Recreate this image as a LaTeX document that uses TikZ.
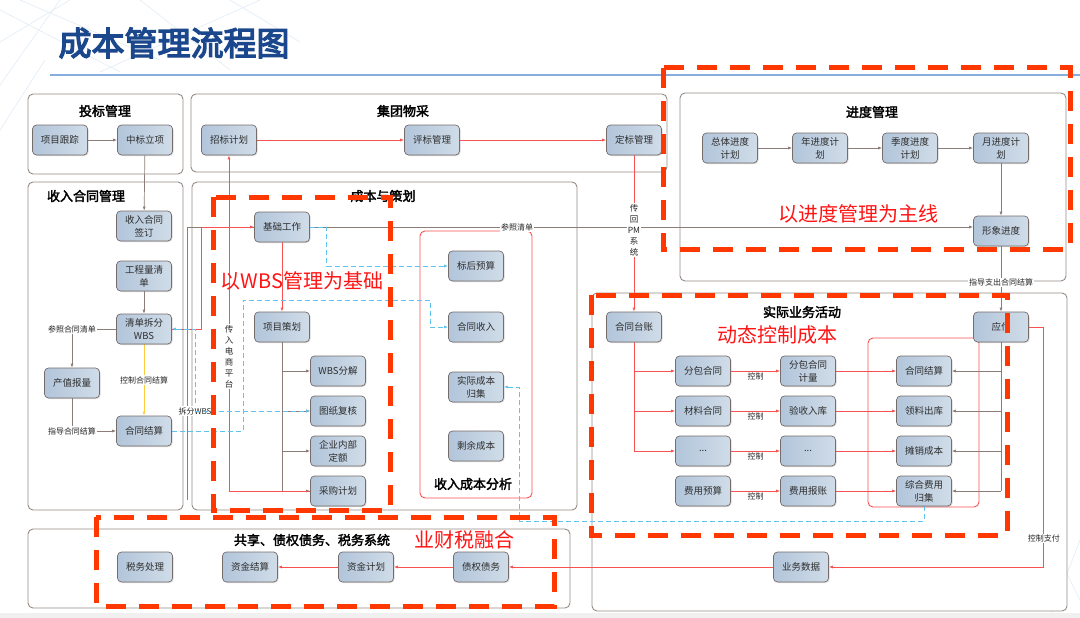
\documentclass[tikz,border=0pt]{standalone}
\usepackage{fontspec}
\setmainfont{Noto Sans CJK SC}
\newfontfamily\heavyfont{Noto Sans CJK SC}[FakeBold=4]
\newfontfamily\boldfont{Noto Sans CJK SC}[FakeBold=2.5]
\usetikzlibrary{arrows.meta, positioning, shadows}
\definecolor{title-blue}{RGB}{27,72,140}
\definecolor{rule-blue}{RGB}{135,172,222}
\definecolor{net-blue}{RGB}{225,235,246}
\definecolor{panel-gray}{RGB}{150,138,132}
\definecolor{box-dark}{RGB}{178,197,218}
\definecolor{box-light}{RGB}{208,220,232}
\definecolor{box-line}{RGB}{118,108,106}
\definecolor{box-text}{RGB}{45,45,45}
\definecolor{link-gray}{RGB}{140,125,120}
\definecolor{link-red}{RGB}{250,80,80}
\definecolor{link-blue}{RGB}{95,195,240}
\definecolor{link-yellow}{RGB}{255,205,60}
\definecolor{focus-red}{RGB}{255,55,0}
\definecolor{focus-text}{RGB}{255,20,20}
\pgfdeclarelayer{panels}
\pgfdeclarelayer{links}
\pgfsetlayers{panels,links,main}

\begin{document}
\begin{tikzpicture}[
    x=1pt, y=-1pt,
    %% flow step box
    box/.style    = {rectangle, rounded corners=4pt,
                     draw=box-line, line width=0.7pt,
                     left color=box-dark, right color=box-light,
                     drop shadow={shadow xshift=1pt, shadow yshift=-1pt, opacity=0.3},
                     minimum width=55pt, minimum height=30pt, inner sep=1pt,
                     font=\fontsize{9.5}{13}\selectfont, text=box-text, align=center},
    %% group panel
    panel/.style  = {rounded corners=5pt, draw=panel-gray, line width=0.9pt, fill=white},
    rpanel/.style = {rounded corners=5pt, draw=link-red, line width=0.9pt},
    ptitle/.style = {font=\boldfont\fontsize{13}{15}\selectfont, text=black},
    %% connector labels
    lbl/.style    = {font=\fontsize{8}{9}\selectfont, text=black!85, fill=white, inner sep=1pt},
    vlbl/.style   = {lbl, align=center, font=\fontsize{8.5}{11}\selectfont},
    ctl/.style    = {font=\fontsize{8}{9}\selectfont, text=black!85, inner sep=0pt},
    %% connectors
    garr/.style   = {-{Latex[length=4pt,width=3pt]}, line width=0.7pt, color=link-gray},
    gline/.style  = {line width=0.7pt, color=link-gray},
    rarr/.style   = {-{Latex[length=4pt,width=3pt]}, line width=0.8pt, color=link-red},
    rline/.style  = {line width=0.8pt, color=link-red},
    barr/.style   = {-{Latex[length=4pt,width=3pt]}, line width=0.9pt, dash pattern=on 5pt off 3pt, color=link-blue},
    yarr/.style   = {-{Latex[length=4pt,width=3pt]}, line width=0.9pt, color=link-yellow},
    %% red emphasis frames
    focus/.style  = {draw=focus-red, line width=5pt, dash pattern=on 20pt off 13pt},
    focustxt/.style = {font=\fontsize{20}{22}\selectfont, text=focus-text},
]
\useasboundingbox (0,0) rectangle (1080,618);

%% ---- background ----
\begin{pgfonlayer}{panels}
\foreach \a/\b in {{0,10}/{120,72}, {0,42}/{70,0}, {20,0}/{160,60}, {60,0}/{0,85},
                   {140,0}/{230,70}, {230,0}/{300,42}, {100,72}/{260,0}, {0,130}/{45,60},
                   {1080,540}/{1050,618}, {1060,560}/{1080,600}}
  \draw[net-blue, line width=0.6pt] (\a) -- (\b);
\fill[gray!12] (0,613) rectangle (1080,618);
\end{pgfonlayer}

\node[anchor=west, font=\heavyfont\fontsize{33}{36}\selectfont, text=title-blue] (title) at (55,43) {成本管理流程图};
\draw[rule-blue, line width=1.5pt] (50,75) -- (1080,75);

%% ---- panels ----
\begin{pgfonlayer}{panels}
\draw[panel] (28,94)   rectangle (183,174);
\draw[panel] (191,94)  rectangle (667,172);
\draw[panel] (680,93)  rectangle (1066,281);
\draw[panel] (28,182)  rectangle (183,510);
\draw[panel] (192,182) rectangle (577,510);
\draw[panel] (592,293) rectangle (1067,611);
\draw[panel] (28,529)  rectangle (570,608);
\draw[rpanel] (420,231) rectangle (532,498);
\draw[rpanel] (868,338) rectangle (979,507);
\end{pgfonlayer}

\node[ptitle] at (105,111) {投标管理};
\node[ptitle] at (403,111) {集团物采};
\node[ptitle] at (872,112) {进度管理};
\node[ptitle] at (86,196)  {收入合同管理};
\node[ptitle] at (383,196) {成本与策划};
\node[ptitle] at (473,484) {收入成本分析};
\node[ptitle] at (802,312) {实际业务活动};
\node[ptitle] at (312,540) {共享、债权债务、税务系统};

%% ---- top row ----
\node[box] (track)   at (60,140)   {项目跟踪};
\node[box] (award)   at (145,140)  {中标立项};
\node[box] (bidplan) at (229,140)  {招标计划};
\node[box] (bideval) at (432,140)  {评标管理};
\node[box] (bidfix)  at (634,140)  {定标管理};

%% ---- schedule ----
\node[box] (overall) at (730,148)  {总体进度\\计划};
\node[box] (yearp)   at (820,148)  {年进度计\\划};
\node[box] (quarp)   at (910,148)  {季度进度\\计划};
\node[box] (monthp)  at (1001,148) {月进度计\\划};
\node[box] (image)   at (1001,231) {形象进度};

%% ---- income contracts ----
\node[box] (sign)    at (144,226)  {收入合同\\签订};
\node[box] (boq)     at (144,276)  {工程量清\\单};
\node[box] (wbs)     at (144,329)  {清单拆分\\WBS};
\node[box] (output)  at (72,383)   {产值报量};
\node[box] (settle)  at (144,431)  {合同结算};

%% ---- cost planning ----
\node[box] (base)    at (282,227)  {基础工作};
\node[box] (plan)    at (282,327)  {项目策划};
\node[box] (wbsdec)  at (338,371)  {WBS分解};
\node[box] (drawck)  at (338,411)  {图纸复核};
\node[box] (quota)   at (338,451)  {企业内部\\定额};
\node[box] (purch)   at (338,491)  {采购计划};
\node[box] (budget)  at (476,266)  {标后预算};
\node[box] (income)  at (476,327)  {合同收入};
\node[box] (actual)  at (476,387)  {实际成本\\归集};
\node[box] (remain)  at (476,446)  {剩余成本};

%% ---- actual business ----
\node[box] (ledger)  at (634,327)  {合同台账};
\node[box] (payable) at (1001,327) {应付};
\node[box] (subc)    at (703,371)  {分包合同};
\node[box] (subm)    at (808,371)  {分包合同\\计量};
\node[box] (setr)    at (924,371)  {合同结算};
\node[box] (matc)    at (703,411)  {材料合同};
\node[box] (accept)  at (808,411)  {验收入库};
\node[box] (issue)   at (924,411)  {领料出库};
\node[box] (dotsa)   at (703,451)  {...};
\node[box] (dotsb)   at (808,451)  {...};
\node[box] (amort)   at (924,451)  {摊销成本};
\node[box] (feeb)    at (703,491)  {费用预算};
\node[box] (feer)    at (808,491)  {费用报账};
\node[box] (feec)    at (924,491)  {综合费用\\归集};
\node[box] (bizdata) at (801,567)  {业务数据};

%% ---- shared systems ----
\node[box] (tax)     at (145,567)  {税务处理};
\node[box] (funds)   at (250,567)  {资金结算};
\node[box] (fundp)   at (366,567)  {资金计划};
\node[box] (debt)    at (481,567)  {债权债务};

\coordinate (refin)    at (187,500);
\coordinate (wbsturn)  at (195,411);
\coordinate (dashturn) at (519,521);

\begin{pgfonlayer}{links}
%% gray links
\draw[garr] (track) -- (award);
\draw[garr] (award) -- (sign);
\draw[garr] (boq) -- (wbs);
\draw[garr] (overall) -- (yearp);
\draw[garr] (yearp) -- (quarp);
\draw[garr] (quarp) -- (monthp);
\draw[garr] (monthp) -- (image);
\draw[garr] (image) -- node[lbl, pos=0.55] {指导支出合同结算} (payable);
\draw[garr] (wbs) -| node[lbl, pos=0.5] {参照合同清单} (output);
\draw[garr] (output) |- node[lbl, pos=0.5] {指导合同结算} (settle);
\draw[garr] (refin) -- (refin |- base) -- node[lbl, pos=0.42] {参照清单} (image.west |- base);
\draw[gline] (plan) -- (plan |- purch);
\foreach \n in {wbsdec,drawck,quota,purch}
  \draw[garr] (plan |- \n) -- (\n);
\draw[gline] (payable) -- (payable |- feec);
\foreach \n in {setr,issue,amort,feec}
  \draw[garr] (payable |- \n) -- (\n);

%% yellow link
\draw[yarr] (wbs) -- node[lbl, pos=0.5] {控制合同结算} (settle);

%% red links
\draw[rarr] (bidplan) -- (bideval);
\draw[rarr] (bideval) -- (bidfix);
\draw[rarr] (bidfix) -- node[vlbl, pos=0.48] {传\\回\\PM\\系\\统} (ledger);
\draw[rarr] (purch) -| node[vlbl, pos=0.7] {传\\入\\电\\商\\平\\台} (bidplan);
\draw[rarr] (wbs.east) -- ++(30,0) |- (base);
\draw[rarr] (base) -- (plan);
\draw[rline] (ledger) -- (ledger |- dotsa);
\foreach \n in {subc,matc,dotsa}
  \draw[rarr] (ledger |- \n) -- (\n);
\draw[rarr] (subc)  -- node[ctl, yshift=-5pt] {控制} (subm);
\draw[rarr] (matc)  -- node[ctl, yshift=-5pt] {控制} (accept);
\draw[rarr] (dotsa) -- node[ctl, yshift=-5pt] {控制} (dotsb);
\draw[rarr] (feeb)  -- node[ctl, yshift=-5pt] {控制} (feer);
\draw[rarr] (subm) -- (setr);
\draw[rarr] (accept) -- (issue);
\draw[rarr] (dotsb) -- (amort);
\draw[rarr] (feer) -- (feec);
\draw[rarr] (payable.east) -- ++(15,0) |- node[lbl, pos=0.44] {控制支付} (bizdata);
\draw[rarr] (bizdata) -- (debt);
\draw[rarr] (debt) -- (fundp);
\draw[rarr] (fundp) -- (funds);

%% blue dashed links
\draw[barr] (base.east) -- ++(17,0) |- (budget);
\draw[barr] (settle) -| (243,300) -| ([xshift=-18pt]income.west) -- (income);
\draw[barr] (wbsturn) node[lbl] {拆分WBS} |- (wbs);
\draw[barr] (wbsturn) -- (drawck);
\draw[barr] (feec) |- (dashturn) |- (actual);
\end{pgfonlayer}

%% ---- red emphasis frames ----
\draw[focus] (663,68)  rectangle (1070,249);
\draw[focus] (213,197) rectangle (390,510);
\draw[focus] (591,295) rectangle (1007,535);
\draw[focus] (96,517)  rectangle (554,606);
\node[focustxt] at (858,214) {以进度管理为主线};
\node[focustxt] at (302,281) {以WBS管理为基础};
\node[focustxt] at (777,335) {动态控制成本};
\node[focustxt] at (464,540) {业财税融合};

\end{tikzpicture}
\end{document}
